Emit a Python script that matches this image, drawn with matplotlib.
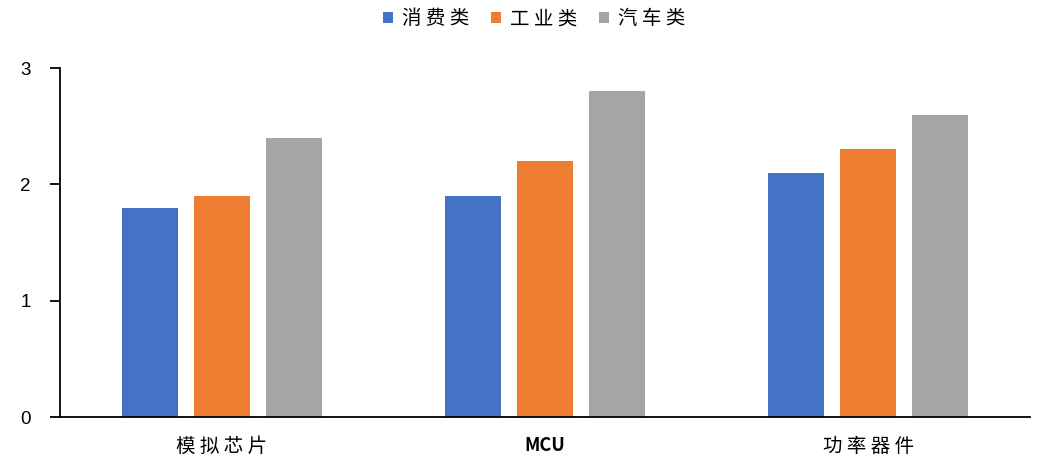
import matplotlib.pyplot as plt
import numpy as np

plt.rcParams['font.family'] = ['Liberation Sans', 'Noto Sans CJK SC', 'DejaVu Sans']

# Data
categories = ["模 拟 芯 片", "MCU", "功 率 器 件"]
series_names = ["消 费 类", "工 业 类", "汽 车 类"]
consumer = [1.8, 1.9, 2.1]
industrial = [1.9, 2.2, 2.3]
automotive = [2.4, 2.8, 2.6]
y_ticks = [0, 1, 2, 3]

colors = ["#4472C4", "#ED7D31", "#A5A5A5"]
cjk = ['Noto Sans CJK SC', 'DejaVu Sans']

fig = plt.figure(figsize=(10.39, 4.61), dpi=100)
ax = fig.add_axes([60 / 1039, 44 / 461, 970 / 1039, 349 / 461])

x = np.arange(len(categories))
bar_w = 0.173
step = 0.223
for i, (vals, name) in enumerate(zip([consumer, industrial, automotive], series_names)):
    ax.bar(x + (i - 1) * step, vals, width=bar_w, color=colors[i], label=name, zorder=2)

ax.set_xlim(-0.5, 2.5)
ax.set_ylim(0, 3)
ax.set_yticks(y_ticks)
ax.set_xticks(x)
ax.set_xticklabels(categories, fontsize=14, family=cjk)
ax.tick_params(axis='x', length=0, pad=14)
ax.tick_params(axis='y', length=7, width=1.3, labelsize=13.5, pad=14, direction='out')
for lbl in ax.get_xticklabels():
    if lbl.get_text() == "MCU":
        lbl.set_fontweight('bold')
        lbl.set_fontsize(13)

for side in ['top', 'right']:
    ax.spines[side].set_visible(False)
ax.spines['left'].set_linewidth(1.3)
ax.spines['bottom'].set_linewidth(1.3)

fig.legend(loc='upper center', bbox_to_anchor=(0.514, 1.02), ncol=3, frameon=False,
           handlelength=0.55, handleheight=0.55, handletextpad=0.45,
           columnspacing=1.1, prop={'family': cjk, 'size': 14})

fig.savefig("out.png", dpi=100)
plt.close()
